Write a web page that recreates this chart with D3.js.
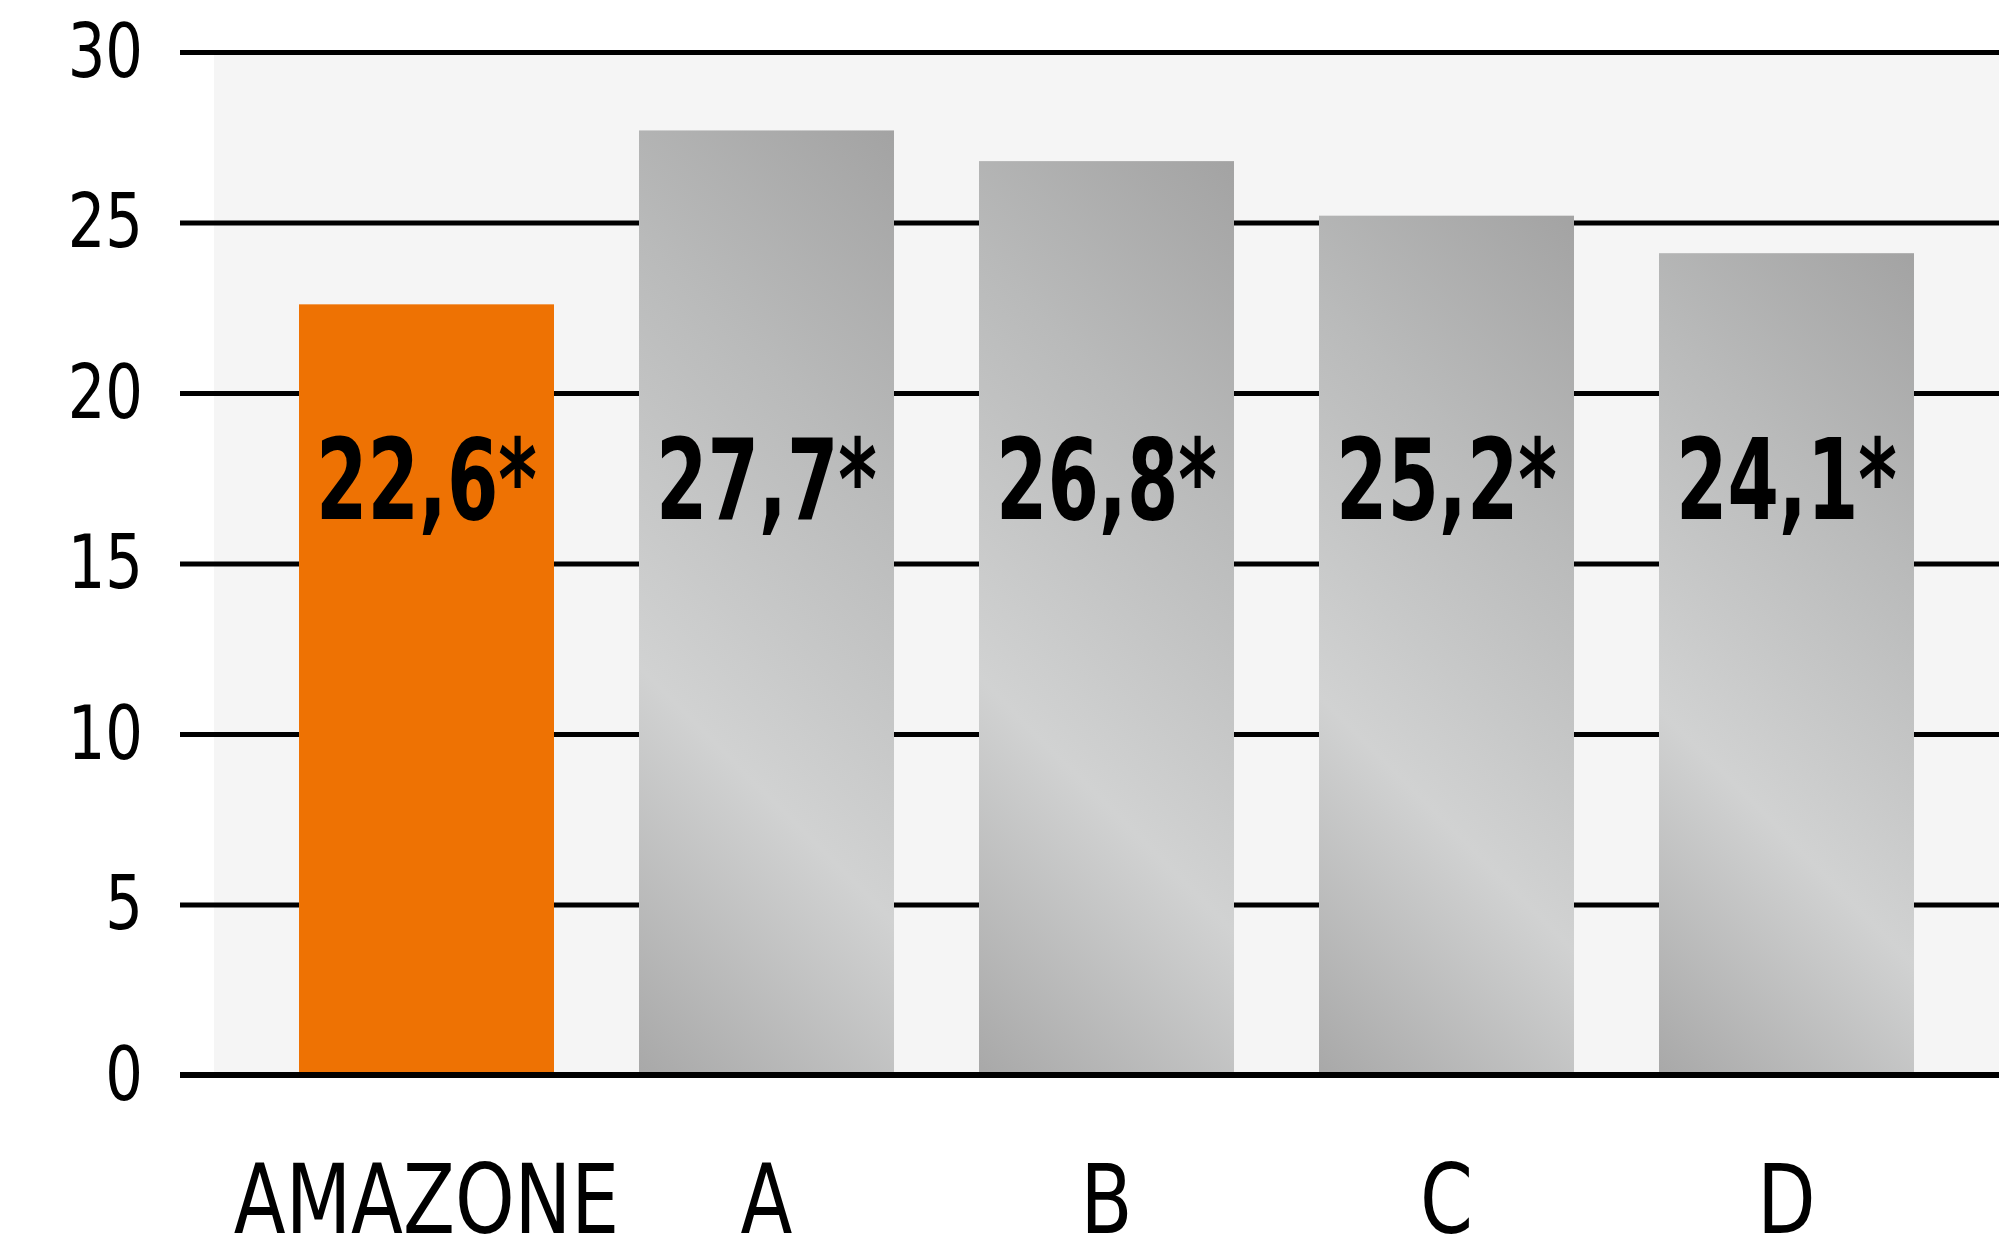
<!DOCTYPE html>
<meta charset="utf-8" />
<style>
  body {
    margin: 0;
    background: #fff;
  }
  text {
    font-family: "DejaVu Sans", sans-serif;
    fill: #000;
  }
</style>

<body>
  <div id="chart"></div>
  <script src="https://cdn.jsdelivr.net/npm/d3@7"></script>
  <script>
    const categories = ["AMAZONE", "A", "B", "C", "D"];
    const values = [22.6, 27.7, 26.8, 25.2, 24.1];
    const valueLabels = ["22,6*", "27,7*", "26,8*", "25,2*", "24,1*"];
    const yTicks = [0, 5, 10, 15, 20, 25, 30];

    const width = 1999;
    const height = 1254;

    const svg = d3.select("#chart").append("svg").attr("width", width).attr("height", height);

    const x = d3.scaleBand().domain(categories).range([214, width]).paddingInner(0.25).paddingOuter(0.25);
    const y = d3.scaleLinear().domain([0, 30]).range([1075, 52]);

    // the source font is a narrow one, so squeeze DejaVu horizontally
    function squeeze(sel, sx, xPos) {
      sel.attr("x", (d, i) => xPos(d, i) / sx).attr("transform", "scale(" + sx + ",1)");
    }

    // grey panel behind the plot
    svg
      .append("rect")
      .attr("x", 214)
      .attr("y", y(30))
      .attr("width", width - 214)
      .attr("height", y(0) - y(30))
      .attr("fill", "#f5f5f5");

    // gridlines + tick labels
    const gridLen = width - 180;
    const yAxis = svg
      .append("g")
      .attr("transform", "translate(" + width + ",0)")
      .call(d3.axisLeft(y).tickValues(yTicks).tickSize(gridLen).tickPadding(37));
    yAxis.select(".domain").remove();
    yAxis.selectAll(".tick line").attr("stroke", "#000").attr("stroke-width", 5);
    yAxis
      .selectAll(".tick text")
      .attr("font-size", 74)
      .attr("font-family", null)
      .attr("dy", 24)
      .attr("fill", "#000")
      .call(squeeze, 0.8, () => -gridLen - 37);

    // one diagonal gradient per grey bar
    const defs = svg.append("defs");
    categories.forEach((c, i) => {
      if (i === 0) return;
      const x0 = x(c);
      const w = x.bandwidth();
      const top = y(values[i]);
      const h = y(0) - top;
      const L = (w + h) / 2;
      const g = defs
        .append("linearGradient")
        .attr("id", "grad" + i)
        .attr("gradientUnits", "userSpaceOnUse")
        .attr("x1", x0 + w)
        .attr("y1", top)
        .attr("x2", x0 + w - L)
        .attr("y2", top + L);
      g.append("stop").attr("offset", 0).attr("stop-color", "#a3a3a3");
      g.append("stop").attr("offset", 0.3).attr("stop-color", "#b9baba");
      g.append("stop").attr("offset", 0.66).attr("stop-color", "#d1d2d2");
      g.append("stop").attr("offset", 1).attr("stop-color", "#a8a8a8");
    });

    svg
      .selectAll(".bar")
      .data(categories)
      .enter()
      .append("rect")
      .attr("class", "bar")
      .attr("x", (d) => x(d))
      .attr("y", (d, i) => y(values[i]))
      .attr("width", x.bandwidth())
      .attr("height", (d, i) => y(0) - y(values[i]))
      .attr("fill", (d, i) => (i === 0 ? "#ee7203" : "url(#grad" + i + ")"));

    // baseline on top of the bars
    svg
      .append("line")
      .attr("x1", 180)
      .attr("x2", width)
      .attr("y1", y(0))
      .attr("y2", y(0))
      .attr("stroke", "#000")
      .attr("stroke-width", 6);

    svg
      .selectAll(".val")
      .data(categories)
      .enter()
      .append("text")
      .attr("class", "val")
      .attr("y", y(16.3))
      .attr("text-anchor", "middle")
      .attr("font-size", 112)
      .attr("font-weight", "bold")
      .text((d, i) => valueLabels[i])
      .call(squeeze, 0.66, (d) => x(d) + x.bandwidth() / 2);

    const xAxis = svg
      .append("g")
      .attr("transform", "translate(0," + y(0) + ")")
      .call(d3.axisBottom(x).tickSize(0));
    xAxis.select(".domain").remove();
    xAxis
      .selectAll(".tick text")
      .attr("font-family", null)
      .attr("font-size", 96)
      .attr("y", 158)
      .attr("dy", 0)
      .attr("fill", "#000")
      .call(squeeze, 0.79, () => 0);
  </script>
</body>
